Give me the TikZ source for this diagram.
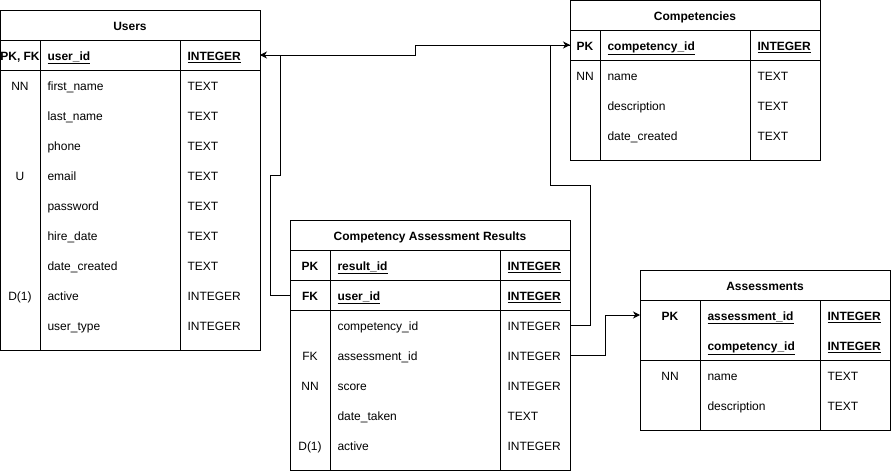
\documentclass[tikz,border=0pt]{standalone}
\usepackage{fontspec}
\setmainfont{Liberation Sans}
\usetikzlibrary{arrows.meta}
\begin{document}
\begin{tikzpicture}[x=1pt,y=-1pt,line width=1pt,
  every node/.style={inner sep=0pt,font=\fontsize{12}{14}\selectfont},
  hdr/.style={anchor=base,font=\fontsize{12}{14}\selectfont\bfseries},
  kc/.style={anchor=base},
  kcb/.style={anchor=base,font=\fontsize{12}{14}\selectfont\bfseries},
  nm/.style={anchor=base west},
  nmb/.style={anchor=base west,font=\fontsize{12}{14}\selectfont\bfseries},
  conn/.style={line width=1pt},
  tip/.style={-{Stealth[length=7pt,width=7pt,inset=2.2pt]}}]
\useasboundingbox (0,0) rectangle (891,471);
\newcommand{\ul}[1]{\underline{#1}}
% ---------------- Users
\draw (0.5,10) rectangle (260,350);
\draw (0.5,40) -- (260,40) (0.5,70) -- (260,70);
\draw (40,40) -- (40,350) (180,40) -- (180,350);
\node[hdr] (uh) at (130,30) {Users};
\node[kcb] (uk1) at (20,60.5) {PK, FK};
\node[nmb] (un1) at (47,60.5) {\ul{user\_id}};
\node[nmb] (ut1) at (187,60.5) {\ul{INTEGER}};
\node[kc] (uk2) at (20,90.5) {NN};
\node[nm] (un2) at (47,90.5) {first\_name};
\node[nm] (ut2) at (187,90.5) {TEXT};
\node[nm] (un3) at (47,120.5) {last\_name};
\node[nm] (ut3) at (187,120.5) {TEXT};
\node[nm] (un4) at (47,150.5) {phone};
\node[nm] (ut4) at (187,150.5) {TEXT};
\node[kc] (uk5) at (20,180.5) {U};
\node[nm] (un5) at (47,180.5) {email};
\node[nm] (ut5) at (187,180.5) {TEXT};
\node[nm] (un6) at (47,210.5) {password};
\node[nm] (ut6) at (187,210.5) {TEXT};
\node[nm] (un7) at (47,240.5) {hire\_date};
\node[nm] (ut7) at (187,240.5) {TEXT};
\node[nm] (un8) at (47,270.5) {date\_created};
\node[nm] (ut8) at (187,270.5) {TEXT};
\node[kc] (uk9) at (20,300.5) {D(1)};
\node[nm] (un9) at (47,300.5) {active};
\node[nm] (ut9) at (187,300.5) {INTEGER};
\node[nm] (un10) at (47,330.5) {user\_type};
\node[nm] (ut10) at (187,330.5) {INTEGER};
% ---------------- Competencies
\draw (570,0.5) rectangle (820,160);
\draw (570,30) -- (820,30) (570,60) -- (820,60);
\draw (600,30) -- (600,160) (750,30) -- (750,160);
\node[hdr] (ch) at (695,20) {Competencies};
\node[kcb] (ck1) at (585,50.5) {PK};
\node[nmb] (cn1) at (607,50.5) {\ul{competency\_id}};
\node[nmb] (ct1) at (757,50.5) {\ul{INTEGER}};
\node[kc] (ck2) at (585,80.5) {NN};
\node[nm] (cn2) at (607,80.5) {name};
\node[nm] (ct2) at (757,80.5) {TEXT};
\node[nm] (cn3) at (607,110.5) {description};
\node[nm] (ct3) at (757,110.5) {TEXT};
\node[nm] (cn4) at (607,140.5) {date\_created};
\node[nm] (ct4) at (757,140.5) {TEXT};
% ---------------- Competency Assessment Results
\draw (290,220) rectangle (570,470.5);
\draw (290,250) -- (570,250) (290,280) -- (570,280) (290,310) -- (570,310);
\draw (330,250) -- (330,470.5) (500,250) -- (500,470.5);
\node[hdr] (rh) at (430,240) {Competency Assessment Results};
\node[kcb] (rk1) at (310,270.5) {PK};
\node[nmb] (rn1) at (337,270.5) {\ul{result\_id}};
\node[nmb] (rt1) at (507,270.5) {\ul{INTEGER}};
\node[kcb] (rk2) at (310,300.5) {FK};
\node[nmb] (rn2) at (337,300.5) {\ul{user\_id}};
\node[nmb] (rt2) at (507,300.5) {\ul{INTEGER}};
\node[nm] (rn3) at (337,330.5) {competency\_id};
\node[nm] (rt3) at (507,330.5) {INTEGER};
\node[kc] (rk4) at (310,360.5) {FK};
\node[nm] (rn4) at (337,360.5) {assessment\_id};
\node[nm] (rt4) at (507,360.5) {INTEGER};
\node[kc] (rk5) at (310,390.5) {NN};
\node[nm] (rn5) at (337,390.5) {score};
\node[nm] (rt5) at (507,390.5) {INTEGER};
\node[nm] (rn6) at (337,420.5) {date\_taken};
\node[nm] (rt6) at (507,420.5) {TEXT};
\node[kc] (rk7) at (310,450.5) {D(1)};
\node[nm] (rn7) at (337,450.5) {active};
\node[nm] (rt7) at (507,450.5) {INTEGER};
% ---------------- Assessments
\draw (640,270) rectangle (890,430);
\draw (640,300) -- (890,300) (640,360) -- (890,360);
\draw (700,300) -- (700,430) (820,300) -- (820,430);
\node[hdr] (ah) at (765,290) {Assessments};
\node[kcb] (ak1) at (670,320.5) {PK};
\node[nmb] (an1) at (707,320.5) {\ul{assessment\_id}};
\node[nmb] (at1) at (827,320.5) {\ul{INTEGER}};
\node[nmb] (an2) at (707,350.5) {\ul{competency\_id}};
\node[nmb] (at2) at (827,350.5) {\ul{INTEGER}};
\node[kc] (ak3) at (670,380.5) {NN};
\node[nm] (an3) at (707,380.5) {name};
\node[nm] (at3) at (827,380.5) {TEXT};
\node[nm] (an4) at (707,410.5) {description};
\node[nm] (at4) at (827,410.5) {TEXT};
% ---------------- ports
\coordinate (pUsers) at (260,55);
\coordinate (pComp) at (570,45);
\coordinate (pRUser) at (290,295);
\coordinate (pRComp) at (570,325);
\coordinate (pRAss) at (570,355);
\coordinate (pAss) at (640,315);
% ---------------- connectors
\draw[conn,tip] (pRUser) -- (270,295) -- (270,175) -- (280,175) -- (280,55) -- (pUsers);
\draw[conn] (pUsers) -- (415,55) -- (415,45) -- (pComp);
\draw[conn,tip] (pRComp) -- (590,325) -- (590,185) -- (550,185) -- (550,45) -- (pComp);
\draw[conn,tip] (pRAss) -- (605,355) -- (605,315) -- (pAss);
\end{tikzpicture}
\end{document}
